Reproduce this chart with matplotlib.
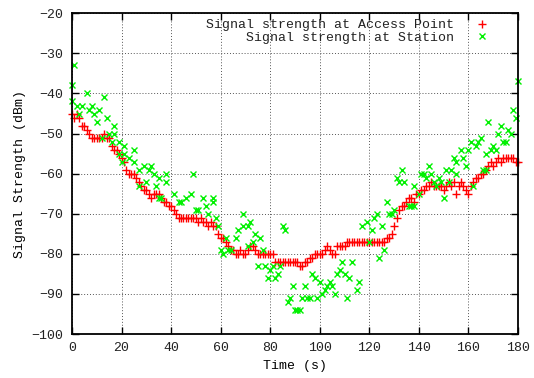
import matplotlib
matplotlib.use("Agg")
import matplotlib.pyplot as plt

# access point: one sample per second
ap_time = list(range(0, 181))
ap_dbm = [
    -45, -46, -45, -46, -48, -48, -49, -50, -51, -51,
    -51, -51, -51, -50, -51, -51, -53, -54, -54, -55,
    -56, -57, -59, -60, -60, -60, -61, -62, -63, -64,
    -64, -65, -66, -65, -65, -65, -66, -67, -67, -68,
    -68, -69, -70, -71, -71, -71, -71, -71, -71, -71,
    -71, -72, -71, -72, -72, -73, -72, -73, -73, -75,
    -76, -76, -77, -78, -79, -79, -80, -80, -79, -80,
    -80, -79, -78, -78, -79, -80, -80, -80, -80, -80,
    -80, -80, -82, -82, -82, -82, -82, -82, -82, -82,
    -82, -82, -83, -83, -82, -82, -81, -81, -80, -80,
    -80, -80, -79, -78, -79, -80, -80, -78, -78, -78,
    -78, -77, -77, -77, -77, -77, -77, -77, -77, -77,
    -77, -77, -77, -77, -77, -77, -77, -76, -76, -75,
    -73, -71, -69, -68, -68, -67, -66, -66, -67, -65,
    -65, -64, -64, -63, -63, -62, -63, -63, -63, -63,
    -64, -63, -62, -63, -62, -65, -63, -62, -63, -64,
    -65, -63, -62, -61, -61, -60, -60, -59, -58, -57,
    -58, -57, -56, -57, -56, -56, -56, -56, -56, -57,
    -57,
]

# station samples (time, dBm)
station_samples = [
    (0, -38), (0, -42), (1, -33), (2, -43), (4, -43), (6, -40), (3, -45),
    (7, -44), (8, -43), (9, -45), (10, -47), (11, -44), (13, -41), (14, -46),
    (12, -51), (15, -50), (17, -48), (17, -50), (16, -52), (19, -52),
    (21, -53), (19, -55), (20, -57), (21, -55), (23, -56), (25, -57),
    (25, -54), (27, -59), (29, -58), (31, -59), (32, -58), (33, -60),
    (30, -62), (27, -63), (34, -63), (35, -61), (35, -66), (38, -62),
    (38, -60), (36, -66), (41, -65), (43, -67), (44, -67), (46, -66),
    (48, -65), (49, -60), (50, -69), (51, -69), (53, -66), (54, -68),
    (55, -70), (57, -66), (57, -67), (58, -71), (59, -73), (60, -79),
    (61, -80), (62, -76), (63, -79), (64, -79), (66, -76), (67, -74),
    (69, -70), (69, -73), (71, -73), (72, -72), (71, -78), (73, -77),
    (74, -75), (75, -83), (76, -76), (78, -83), (77, -79), (79, -86),
    (80, -84), (81, -83), (82, -86), (83, -85), (84, -83), (85, -73),
    (86, -74), (87, -92), (88, -91), (89, -88), (90, -94), (91, -94),
    (92, -94), (93, -91), (94, -88), (95, -91), (96, -91), (97, -85),
    (98, -86), (99, -91), (100, -87), (101, -90), (102, -89), (103, -88),
    (104, -87), (105, -88), (106, -90), (107, -85), (108, -84), (109, -82),
    (110, -85), (111, -91), (112, -86), (113, -82), (115, -89), (116, -87),
    (117, -73), (119, -72), (120, -77), (121, -74), (122, -71), (123, -70),
    (124, -81), (125, -73), (126, -79), (127, -67), (128, -70), (129, -70),
    (130, -69), (131, -61), (132, -62), (133, -59), (134, -62), (136, -68),
    (137, -68), (138, -63), (138, -68), (140, -65), (141, -60), (142, -60),
    (143, -61), (144, -58), (145, -60), (146, -62), (147, -63), (148, -61),
    (149, -62), (150, -66), (151, -59), (152, -62), (153, -59), (154, -56),
    (155, -60), (155, -57), (157, -54), (158, -56), (159, -58), (160, -54),
    (161, -52), (162, -63), (163, -53), (164, -52), (165, -51), (166, -59),
    (167, -59), (167, -55), (168, -47), (169, -54), (170, -53), (171, -54),
    (172, -50), (173, -48), (174, -52), (175, -52), (176, -49), (177, -50),
    (178, -44), (179, -46), (180, -37),
]

FONT = ["Liberation Mono", "DejaVu Sans Mono"]


def main():
    plt.rcParams["font.family"] = FONT
    plt.rcParams["font.size"] = 9.5
    plt.rcParams["text.color"] = "#222222"
    plt.rcParams["xtick.labelcolor"] = "#222222"
    plt.rcParams["ytick.labelcolor"] = "#222222"

    sta_time = [t for t, v in station_samples]
    sta_dbm = [v for t, v in station_samples]

    fig = plt.figure(figsize=(5.34, 3.78), dpi=100)
    ax = fig.add_axes([0.1348, 0.1164, 0.8352, 0.8484])

    ax.plot(ap_time, ap_dbm, linestyle="none", marker="+", color="#ff0000",
            markersize=5.5, markeredgewidth=1.0,
            label="Signal strength at Access Point", clip_on=False)
    ax.plot(sta_time, sta_dbm, linestyle="none", marker="x", color="#00f000",
            markersize=4.5, markeredgewidth=1.0,
            label="     Signal strength at Station", clip_on=False)

    ax.set_xlim(0, 180)
    ax.set_ylim(-100, -20)
    ax.set_xticks(range(0, 181, 20))
    ax.set_yticks(range(-100, -19, 10))
    ax.set_xlabel("Time (s)")
    ax.set_ylabel("Signal Strength (dBm)")

    ax.grid(True, color="#555555", linestyle=(0, (1, 2)), linewidth=0.7)
    ax.tick_params(direction="in", top=True, right=True, length=5,
                   width=1, pad=6)
    for spine in ax.spines.values():
        spine.set_linewidth(1.3)

    leg = ax.legend(loc="upper right", markerfirst=False, frameon=False,
                    handlelength=1.0, handletextpad=1.6, borderaxespad=0.0,
                    labelspacing=0.0, borderpad=0.0,
                    bbox_to_anchor=(0.934, 0.982))
    leg.set_zorder(5)

    fig.savefig("out.png", dpi=100)
    plt.close(fig)


if __name__ == "__main__":
    main()
